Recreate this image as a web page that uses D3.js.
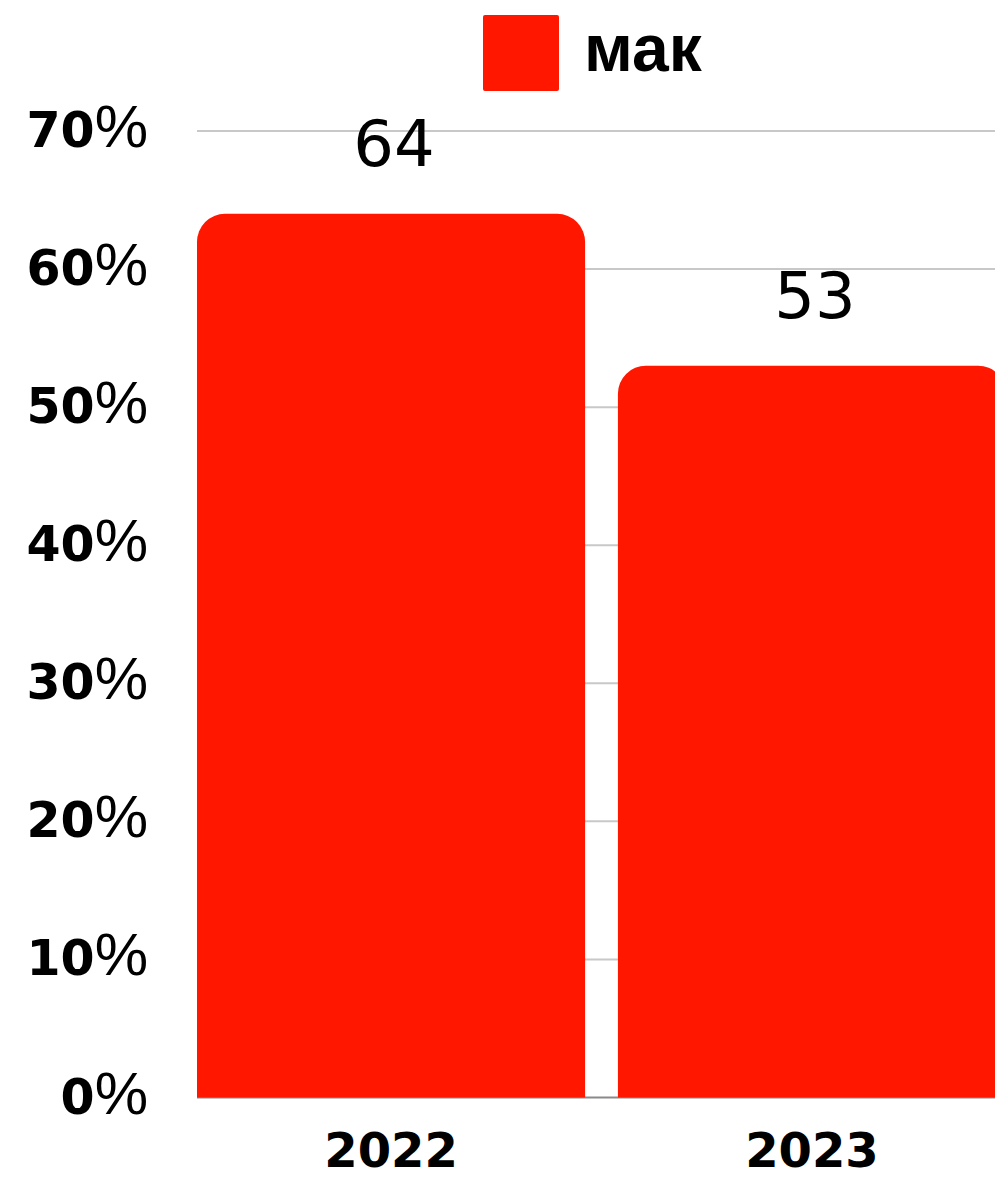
<!DOCTYPE html>
<html><head><meta charset="utf-8">
<script src="https://cdn.jsdelivr.net/npm/d3@7"></script>
<style>html,body{margin:0;padding:0;background:#fff;overflow:hidden}</style>
</head><body>
<svg id="c" width="995" height="1178"></svg>
<script>
const categories = ["2022", "2023"];
const values = [64, 53];
const seriesName = "мак";
const yTicks = [0, 10, 20, 30, 40, 50, 60, 70];

const W = 995, H = 1178;
const RED = "#ff1700";
const svg = d3.select("#c");

const x = d3.scaleBand().domain(categories).range([197, 1006]).paddingInner(0.078).paddingOuter(0);
const y = d3.scaleLinear().domain([0, 70]).range([1097.5, 131]);

// gridlines
svg.append("g").selectAll("line").data(yTicks.filter(d => d > 0)).join("line")
  .attr("x1", 197).attr("x2", W)
  .attr("y1", d => y(d)).attr("y2", d => y(d))
  .attr("stroke", "#c8c8c8").attr("stroke-width", 2);

// baseline
svg.append("line").attr("x1", 197).attr("x2", W)
  .attr("y1", y(0)).attr("y2", y(0)).attr("stroke", "#8a8a8a").attr("stroke-width", 2);

// bars with rounded top
function barPath(x0, w, yTop, yBot, r) {
  const p = d3.path();
  p.moveTo(x0, yBot);
  p.lineTo(x0, yTop + r);
  p.arcTo(x0, yTop, x0 + r, yTop, r);
  p.lineTo(x0 + w - r, yTop);
  p.arcTo(x0 + w, yTop, x0 + w, yTop + r, r);
  p.lineTo(x0 + w, yBot);
  p.closePath();
  return p.toString();
}
svg.append("g").selectAll("path").data(categories).join("path")
  .attr("d", (c, i) => barPath(x(c), x.bandwidth(), y(values[i]), y(0), 28))
  .attr("fill", RED);

// value labels
svg.append("g").selectAll("text").data(categories).join("text")
  .attr("x", c => x(c) + x.bandwidth() / 2 + 3)
  .attr("y", (c, i) => y(values[i]) - 48)
  .attr("text-anchor", "middle")
  .attr("font-family", "DejaVu Sans").attr("font-size", 64).attr("font-weight", "normal")
  .attr("fill", "#000")
  .text((c, i) => values[i]);

// y tick labels
const yt = svg.append("g").selectAll("text").data(yTicks).join("text")
  .attr("x", 148).attr("y", d => y(d) + 16)
  .attr("text-anchor", "end").attr("fill", "#000");
yt.append("tspan").attr("font-family", "DejaVu Sans").attr("font-weight", "bold").attr("font-size", 49)
  .text(d => d);
yt.append("tspan").attr("font-family", "Liberation Sans").attr("font-weight", "normal").attr("font-size", 60)
  .text("%");

// x labels
svg.append("g").selectAll("text").data(categories).join("text")
  .attr("x", c => x(c) + x.bandwidth() / 2)
  .attr("y", 1167)
  .attr("text-anchor", "middle")
  .attr("font-family", "DejaVu Sans").attr("font-weight", "bold").attr("font-size", 48)
  .attr("fill", "#000")
  .text(c => c);

// legend
const lg = svg.append("g");
lg.append("rect").attr("x", 483).attr("y", 15).attr("width", 76).attr("height", 76).attr("rx", 2).attr("fill", RED);
lg.append("text").attr("x", 584).attr("y", 71)
  .attr("font-family", "Liberation Sans").attr("font-weight", "bold").attr("font-size", 66)
  .attr("fill", "#000").text(seriesName);
</script>
</body></html>
